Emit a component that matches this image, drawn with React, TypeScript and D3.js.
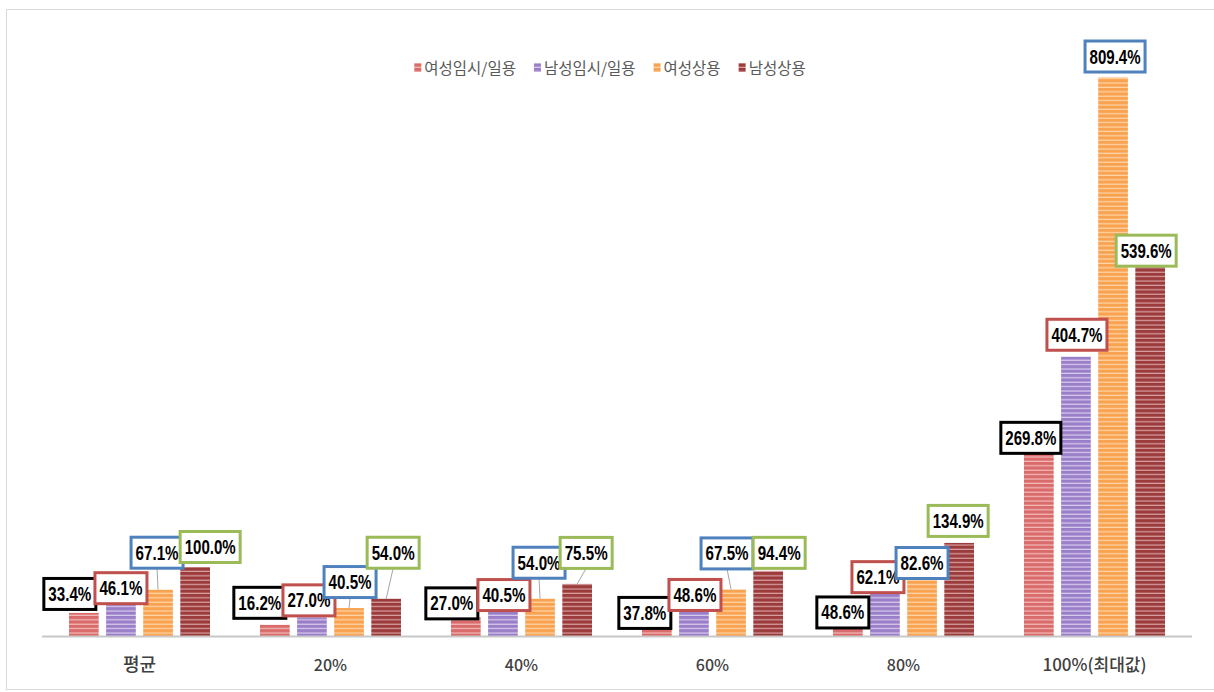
import React, { useEffect, useRef } from 'react';
import * as d3 from 'd3';

const categories = ['평균', '20%', '40%', '60%', '80%', '100%(최대값)'];
const seriesNames = ['여성임시/일용', '남성임시/일용', '여성상용', '남성상용'];
const femaleTemp = [33.4, 16.2, 27.0, 37.8, 48.6, 269.8];
const maleTemp = [46.1, 27.0, 40.5, 48.6, 62.1, 404.7];
const femaleRegular = [67.1, 40.5, 54.0, 67.5, 82.6, 809.4];
const maleRegular = [100.0, 54.0, 75.5, 94.4, 134.9, 539.6];
const seriesValues = [femaleTemp, maleTemp, femaleRegular, maleRegular];

// layout: manual data-label nudges (dx, dy from bar top centre) per series, per category
const labelNudgeX = [
  [-14, -15, -14, -12, -5, -8],
  [0, -3, 1, 1, -7, 1],
  [-1, 1, -1, -4, 0, 2],
  [15, 7, 9, 11, -1, -4],
];
const labelNudgeY = [
  [-19, -22, -14, 3, 10, -12],
  [-16, -17, -13, -7.5, -16, -22],
  [-37, -26, -36, -36, -16, -21],
  [-20, -46, -31, -18, -22, -13],
];

const barBase = ['#d96b6b', '#9a7fc8', '#f9a24f', '#9b3b3b'];
const barLight = ['#f3bcba', '#d9cdee', '#fdd6ab', '#d9a2a2'];
const boxStroke = ['#000000', '#c0504d', '#4f81bd', '#9bbb59'];

const W = 1214;
const H = 692;

export default function App() {
  const ref = useRef<SVGSVGElement>(null);

  useEffect(() => {
    const svg = d3.select(ref.current);
    svg.selectAll('*').remove();

    const defs = svg.append('defs');
    seriesNames.forEach((_, i) => {
      const p = defs
        .append('pattern')
        .attr('id', `stripe${i}`)
        .attr('patternUnits', 'userSpaceOnUse')
        .attr('width', 6)
        .attr('height', 4.4);
      p.append('rect').attr('width', 6).attr('height', 4.4).attr('fill', barBase[i]);
      p.append('rect').attr('y', 3.2).attr('width', 6).attr('height', 1.2).attr('fill', barLight[i]);
    });

    // chart frame
    svg
      .append('rect')
      .attr('x', 6.5)
      .attr('y', 9.5)
      .attr('width', W + 20)
      .attr('height', H - 12)
      .attr('fill', 'none')
      .attr('stroke', '#d9d9d9');

    const x0 = d3.scaleBand<string>().domain(categories).range([44, 1190]).padding(0);
    const x1 = d3
      .scaleBand<string>()
      .domain(seriesNames)
      .range([25, x0.bandwidth() - 25])
      .paddingInner(0.2);
    const y = d3.scaleLinear().domain([0, 800]).range([636, 84]);

    const g = svg.append('g');

    // bars
    seriesNames.forEach((s, si) => {
      g.selectAll(`.bar${si}`)
        .data(seriesValues[si])
        .enter()
        .append('rect')
        .attr('x', (_, ci) => (x0(categories[ci]) as number) + (x1(s) as number))
        .attr('y', (d) => y(d))
        .attr('width', x1.bandwidth())
        .attr('height', (d) => y(0) - y(d))
        .attr('fill', `url(#stripe${si})`);
    });

    // axis line
    g.append('line')
      .attr('x1', 42)
      .attr('x2', 1192)
      .attr('y1', y(0) + 0.5)
      .attr('y2', y(0) + 0.5)
      .attr('stroke', '#c8c8c8')
      .attr('stroke-width', 2);

    // category labels
    g.selectAll('.cat')
      .data(categories)
      .enter()
      .append('text')
      .attr('x', (d) => (x0(d) as number) + x0.bandwidth() / 2)
      .attr('y', 671)
      .attr('text-anchor', 'middle')
      .attr('font-family', "'Noto Sans CJK KR', sans-serif")
      .attr('font-size', (d, i) => (i === 0 ? 18 : i === 5 ? 17 : 16))
      .attr('font-weight', 500)
      .attr('fill', '#404040')
      .text((d) => d);

    // data labels
    const labelFont = "'Liberation Sans', Arial, sans-serif";
    seriesNames.forEach((s, si) => {
      seriesValues[si].forEach((v, ci) => {
        const bx = (x0(categories[ci]) as number) + (x1(s) as number) + x1.bandwidth() / 2;
        const by = y(v);
        const cx = bx + labelNudgeX[si][ci];
        const cy = by + labelNudgeY[si][ci];
        const str = `${v.toFixed(1)}%`;
        const tw = str.length === 5 ? 43 : 51;
        const lg = g.append('g');
        lg.append('text')
          .attr('x', cx - tw / 2)
          .attr('y', cy + 7)
          .attr('font-family', labelFont)
          .attr('font-weight', 'bold')
          .attr('font-size', 19.5)
          .attr('textLength', tw)
          .attr('lengthAdjust', 'spacingAndGlyphs')
          .attr('fill', '#000')
          .text(str);
        const bw = tw + 9;
        const bh = 31;
        const boxBottom = cy + bh / 2;
        if (by - boxBottom > 8) {
          lg.insert('line', 'text')
            .attr('x1', cx)
            .attr('y1', boxBottom)
            .attr('x2', bx)
            .attr('y2', by)
            .attr('stroke', '#a6a6a6')
            .attr('stroke-width', 1);
        }
        lg.insert('rect', 'text')
          .attr('x', cx - bw / 2)
          .attr('y', cy - bh / 2)
          .attr('width', bw)
          .attr('height', bh)
          .attr('fill', '#fff')
          .attr('stroke', boxStroke[si])
          .attr('stroke-width', 3);
      });
    });

    // legend
    const legend = svg.append('g');
    let cursor = 0;
    const items: { g: any; w: number }[] = [];
    seriesNames.forEach((s, si) => {
      const ig = legend.append('g');
      ig.append('rect')
        .attr('x', 0)
        .attr('y', -5)
        .attr('width', 7)
        .attr('height', 9)
        .attr('fill', `url(#stripe${si})`);
      const t = ig
        .append('text')
        .attr('x', 10)
        .attr('y', 5.5)
        .attr('font-family', "'Noto Sans CJK KR', sans-serif")
        .attr('font-size', 15.5)
        .attr('fill', '#595959')
        .text(s);
      const w = 10 + (t.node() as SVGTextElement).getComputedTextLength();
      items.push({ g: ig, w });
    });
    const gap = 18;
    const total = items.reduce((a, b) => a + b.w, 0) + gap * (items.length - 1);
    cursor = 610 - total / 2;
    items.forEach((it) => {
      it.g.attr('transform', `translate(${cursor},68)`);
      cursor += it.w + gap;
    });
  }, []);

  return (
    <svg
      ref={ref}
      width={W}
      height={H}
      style={{ position: 'absolute', left: 0, top: 0, background: '#fff' }}
    />
  );
}
